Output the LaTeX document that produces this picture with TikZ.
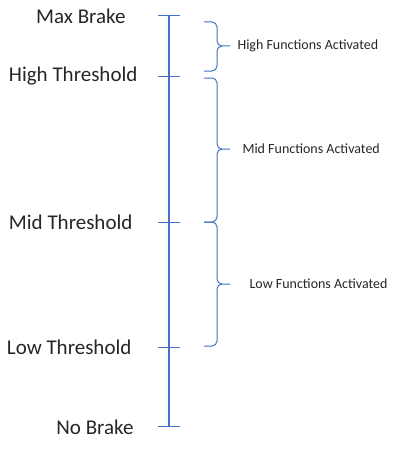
\documentclass[tikz,border=0pt]{standalone}
\usepackage{fontspec}
\setmainfont{Carlito}
\definecolor{ScaleBlue}{HTML}{4472C4}

\begin{document}
\begin{tikzpicture}
    [
        x=1pt, y=-1pt,
        Level/.style={anchor=east, text=black!85, font=\fontsize{21}{24}\selectfont},
        Note/.style={anchor=west, text=black!85, font=\fontsize{14}{16}\selectfont},
        Axis/.style={draw=ScaleBlue, line width=2.2pt},
        Tick/.style={draw=ScaleBlue, line width=1pt},
        Bracket/.style={draw=ScaleBlue, line width=1pt, rounded corners=5pt}
    ]
    \useasboundingbox (0,0) rectangle (400,460);

    % scale ticks
    \coordinate (MaxTick) at (169,16);
    \coordinate (HighTick) at (169,76);
    \coordinate (MidTick) at (169,222);
    \coordinate (LowTick) at (169,347);
    \coordinate (NoTick) at (169,426);

    \draw[Axis] (MaxTick) -- (NoTick);
    \foreach \t in {MaxTick,HighTick,MidTick,LowTick,NoTick}
        \draw[Tick] ([xshift=-11pt]\t) -- ([xshift=11pt]\t);

    \node[Level] (MaxBrake) at (129,16) {Max Brake};
    \node[Level] (HighThreshold) at (141,76) {High Threshold};
    \node[Level] (MidThreshold) at (136,222) {Mid Threshold};
    \node[Level] (LowThreshold) at (135,347) {Low Threshold};
    \node[Level] (NoBrake) at (137,427) {No Brake};

    % braces
    \coordinate (HighTip) at (230,46);
    \coordinate (MidTip) at (230,149);
    \coordinate (LowTip) at (230,284);
    \draw[Bracket] (204,22) -- (217,22) -- (217,46) -- (HighTip)
        (HighTip) -- (217,46) -- (217,71) -- (204,71);
    \draw[Bracket] (204,78) -- (217,78) -- (217,149) -- (MidTip)
        (MidTip) -- (217,149) -- (217,222) -- (204,222);
    \draw[Bracket] (204,222) -- (217,222) -- (217,284) -- (LowTip)
        (LowTip) -- (217,284) -- (217,346) -- (204,346);

    \node[Note] (HighFunctions) at (234,46) {High Functions Activated};
    \node[Note] (MidFunctions) at (239,149) {Mid Functions Activated};
    \node[Note] (LowFunctions) at (246,284) {Low Functions Activated};
\end{tikzpicture}
\end{document}
